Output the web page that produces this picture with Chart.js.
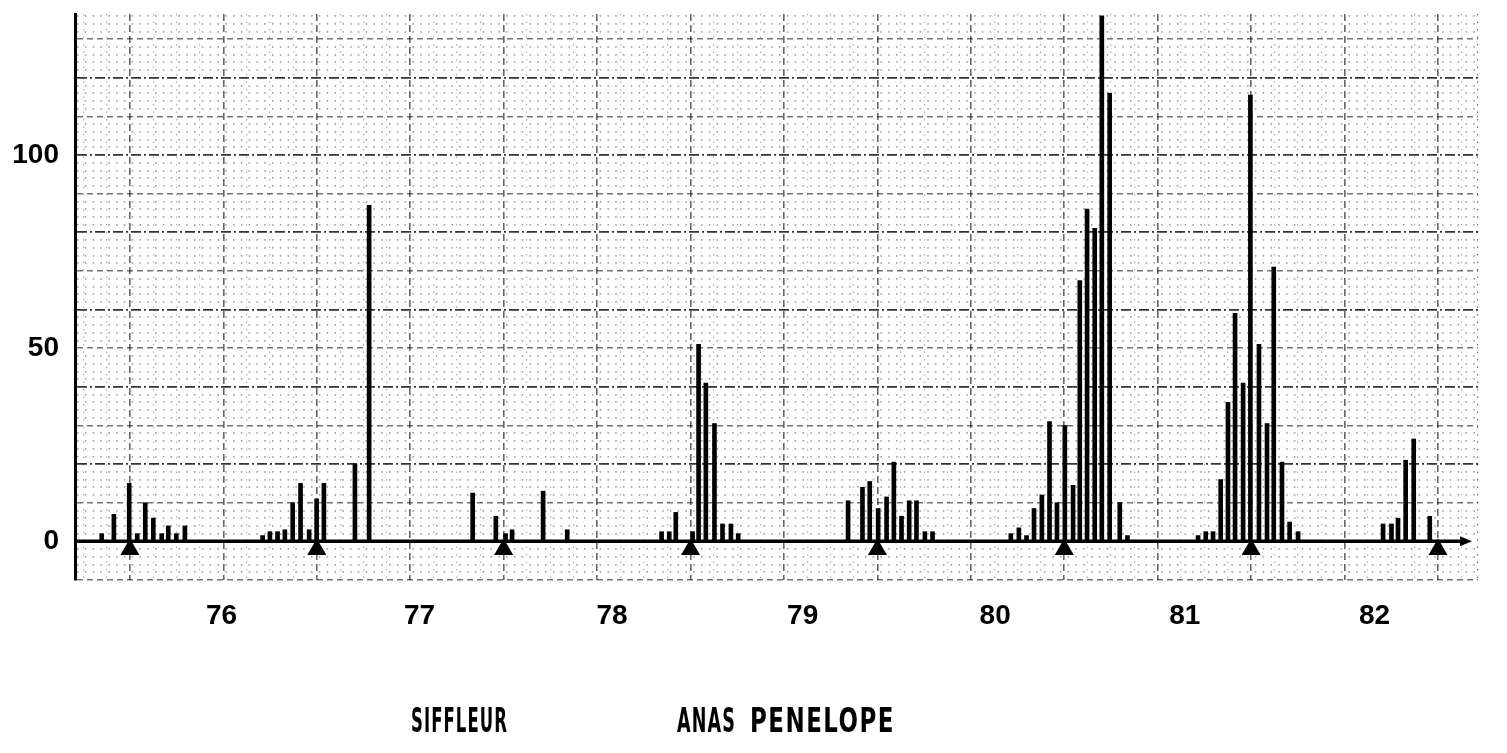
<!DOCTYPE html>
<html><head><meta charset="utf-8">
<script src="https://cdn.jsdelivr.net/npm/chart.js@4.4.1/dist/chart.umd.min.js"></script>
<style>
html,body{margin:0;padding:0;background:#fff;}
#wrap{position:relative;width:1507px;height:753px;overflow:hidden;}
canvas{display:block;}
.cap{position:absolute;font-family:'DejaVu Sans Condensed','Liberation Sans Narrow',sans-serif;font-weight:bold;font-size:34px;line-height:1;color:#000;transform-origin:0 0;white-space:nowrap;letter-spacing:2px;}
</style></head><body>
<div id="wrap">
<canvas id="c" width="1507" height="753"></canvas>
<div class="cap" id="cap1">SIFFLEUR</div>
<div class="cap" id="cap2">ANAS</div>
<div class="cap" id="cap3">PENELOPE</div>
</div>
<script>
// Semi-monthly counts (x = decimal year, 76.0 = start of 1976)
const barYears = [75.849, 75.914, 75.996, 76.039, 76.082, 76.125, 76.170, 76.205, 76.248, 76.294,
  76.710, 76.749, 76.790, 76.829, 76.871, 76.913, 76.959, 76.999, 77.038, 77.204, 77.280,
  77.834, 77.958, 78.010, 78.045, 78.211, 78.340,
  78.845, 78.886, 78.921, 79.011, 79.043, 79.082, 79.128, 79.171, 79.216, 79.255,
  79.843, 79.920, 79.959, 80.004, 80.049, 80.088, 80.129, 80.170, 80.209, 80.254, 80.295,
  80.714, 80.757, 80.798, 80.838, 80.880, 80.921, 80.961, 81.003, 81.047, 81.083, 81.122, 81.163, 81.201, 81.243, 81.297, 81.338,
  81.716, 81.757, 81.796, 81.837, 81.876, 81.914, 81.957, 81.996, 82.042, 82.085, 82.121, 82.165, 82.206, 82.251,
  82.706, 82.751, 82.786, 82.827, 82.870, 82.956];
const barCounts = [2, 7, 15, 2, 10, 6, 2, 4, 2, 4,
  1.5, 2.5, 2.5, 3, 10, 15, 3, 11, 15, 20, 87,
  12.5, 6.5, 2, 3, 13, 3,
  2.5, 2.5, 7.5, 2.5, 51, 41, 30.5, 4.5, 4.5, 2,
  10.5, 14, 15.5, 8.5, 11.5, 20.5, 6.5, 10.5, 10.5, 2.5, 2.5,
  2, 3.5, 1.5, 8.5, 12, 31, 10, 30, 14.5, 67.5, 86, 81, 136, 116, 10, 1.5,
  1.5, 2.5, 2.5, 16, 36, 59, 41, 115.5, 51, 30.5, 71, 20.5, 5, 2.5,
  4.5, 4.5, 6, 21, 26.5, 6.5];
// Year markers (triangles on the baseline)
const markerYears = [76, 77, 78, 79, 80, 81, 82, 83];
// X tick labels and where they sit
const xTickPositions = [76.49, 77.55, 78.58, 79.60, 80.63, 81.645, 82.66];
const xTickLabels = ['76', '77', '78', '79', '80', '81', '82'];
// Y tick labels
const yTickLabels = [0, 50, 100];

const X_MIN = 75.706, X_MAX = 83.214, Y_MIN = -10, Y_MAX = 136.5;

const barData = barYears.map((x, i) => ({x: x, y: barCounts[i]}));
const markerData = markerYears.map(x => ({x: x, y: -2.1}));

const baselinePlugin = {
  id: 'baseline',
  beforeDatasetsDraw(chart) {
    const {ctx, chartArea, scales} = chart;
    const y0 = scales.y.getPixelForValue(0);
    const xEnd = chartArea.right - 14;
    ctx.save();
    ctx.strokeStyle = '#000';
    ctx.lineWidth = 3.5;
    ctx.beginPath();
    ctx.moveTo(chartArea.left, y0);
    ctx.lineTo(xEnd, y0);
    ctx.stroke();
    ctx.fillStyle = '#000';
    ctx.beginPath();
    ctx.moveTo(xEnd + 8, y0);
    ctx.lineTo(xEnd - 4, y0 - 5);
    ctx.lineTo(xEnd - 4, y0 + 5);
    ctx.closePath();
    ctx.fill();
    ctx.restore();
  }
};

const fontTicks = {family: "'Liberation Sans', Arial, sans-serif", weight: 'bold', size: 28};
const noPad = s => { s.paddingTop = 0; s.paddingBottom = 0; s.paddingLeft = 0; s.paddingRight = 0; };

new Chart(document.getElementById('c'), {
  type: 'bar',
  data: {
    datasets: [
      {
        type: 'bar',
        data: barData,
        backgroundColor: '#000',
        borderWidth: 0,
        barThickness: 4,
        xAxisID: 'x', yAxisID: 'y',
        order: 2
      },
      {
        type: 'scatter',
        data: markerData,
        pointStyle: 'triangle',
        pointRadius: 11,
        pointBackgroundColor: '#000',
        pointBorderWidth: 0,
        xAxisID: 'x', yAxisID: 'y',
        order: 1
      }
    ]
  },
  options: {
    responsive: false,
    animation: false,
    layout: {padding: {top: 14, right: 29, left: 0, bottom: 0}},
    plugins: {legend: {display: false}, tooltip: {enabled: false}, title: {display: false}},
    scales: {
      x: {
        type: 'linear', min: X_MIN, max: X_MAX, position: 'bottom', offset: false,
        afterBuildTicks: s => { s.ticks = xTickPositions.map(v => ({value: v})); },
        afterFit: s => { s.height = 173; noPad(s); },
        ticks: {
          callback: (v, i) => xTickLabels[i],
          font: fontTicks, color: '#000', padding: 19, maxRotation: 0, autoSkip: false
        },
        grid: {display: false, drawTicks: false},
        border: {display: false}
      },
      xg: {
        type: 'linear', min: X_MIN, max: X_MAX, position: 'top', offset: false,
        afterBuildTicks: s => {
          const t = [];
          for (let k = 0; k <= 60; k++) {
            const v = 75.75 + k * 0.125;
            if (v > X_MIN && v < X_MAX) t.push({value: v});
          }
          t.push({value: X_MAX});
          s.ticks = t;
        },
        afterFit: s => { s.height = 0; noPad(s); },
        ticks: {display: false},
        grid: {
          drawTicks: false,
          offset: false,
          color: ctx => {
            const v = ctx.tick ? ctx.tick.value : 0;
            if (Math.abs(v - X_MAX) < 1e-6) return 'rgba(0,0,0,0.55)';
            const r = Math.abs((v * 2) - Math.round(v * 2));
            return r < 1e-6 ? 'rgba(0,0,0,0.6)' : 'rgba(0,0,0,0.3)';
          },
          lineWidth: ctx => {
            const v = ctx.tick ? ctx.tick.value : 0;
            const r = Math.abs((v * 2) - Math.round(v * 2));
            return r < 1e-6 ? 1.6 : 1.2;
          }
        },
        border: {
          display: false,
          dash: ctx => {
            if (!ctx.tick) return [];
            const v = ctx.tick.value;
            const r = Math.abs((v * 2) - Math.round(v * 2));
            return r < 1e-6 ? [7, 4] : [1.5, 6];
          }
        }
      },
      y: {
        type: 'linear', min: Y_MIN, max: Y_MAX, position: 'left',
        afterBuildTicks: s => {
          const t = [];
          for (let v = -10; v <= 136; v += 2) t.push({value: v});
          s.ticks = t;
        },
        afterFit: s => { s.width = 75; noPad(s); },
        ticks: {
          callback: v => (yTickLabels.includes(v) ? String(v) : ''),
          font: fontTicks, color: '#000', padding: 16, autoSkip: false
        },
        grid: {
          drawTicks: false,
          color: ctx => {
            const v = ctx.tick ? ctx.tick.value : 1;
            if (v === 0) return 'rgba(0,0,0,0)';
            if (v % 20 === 0) return 'rgba(0,0,0,0.8)';
            if (v % 10 === 0) return 'rgba(0,0,0,0.55)';
            return 'rgba(0,0,0,0.35)';
          },
          lineWidth: ctx => {
            const v = ctx.tick ? ctx.tick.value : 1;
            if (v % 20 === 0) return 1.8;
            if (v % 10 === 0) return 1.4;
            return 1.7;
          }
        },
        border: {
          display: true, color: '#000', width: 3,
          dash: ctx => {
            if (!ctx.tick) return [];
            const v = ctx.tick.value;
            if (v % 20 === 0) return [10, 3, 2, 3];
            if (v % 10 === 0) return [6, 4];
            return [1.6, 6.2];
          }
        }
      }
    }
  },
  plugins: [baselinePlugin]
});

// Caption layout
function placeCaptions() {
  const spec = [
    ['cap1', 411, 508, 703],
    ['cap2', 677, 736, 703],
    ['cap3', 750, 895, 703]
  ];
  spec.forEach(([id, l, r, t]) => {
    const el = document.getElementById(id);
    el.style.transform = 'none';
    const w = el.getBoundingClientRect().width;
    el.style.left = l + 'px';
    el.style.top = t + 'px';
    el.style.transform = 'scaleX(' + ((r - l) / w) + ')';
  });
}
placeCaptions();
if (document.fonts && document.fonts.ready) document.fonts.ready.then(placeCaptions);
</script>
</body></html>
